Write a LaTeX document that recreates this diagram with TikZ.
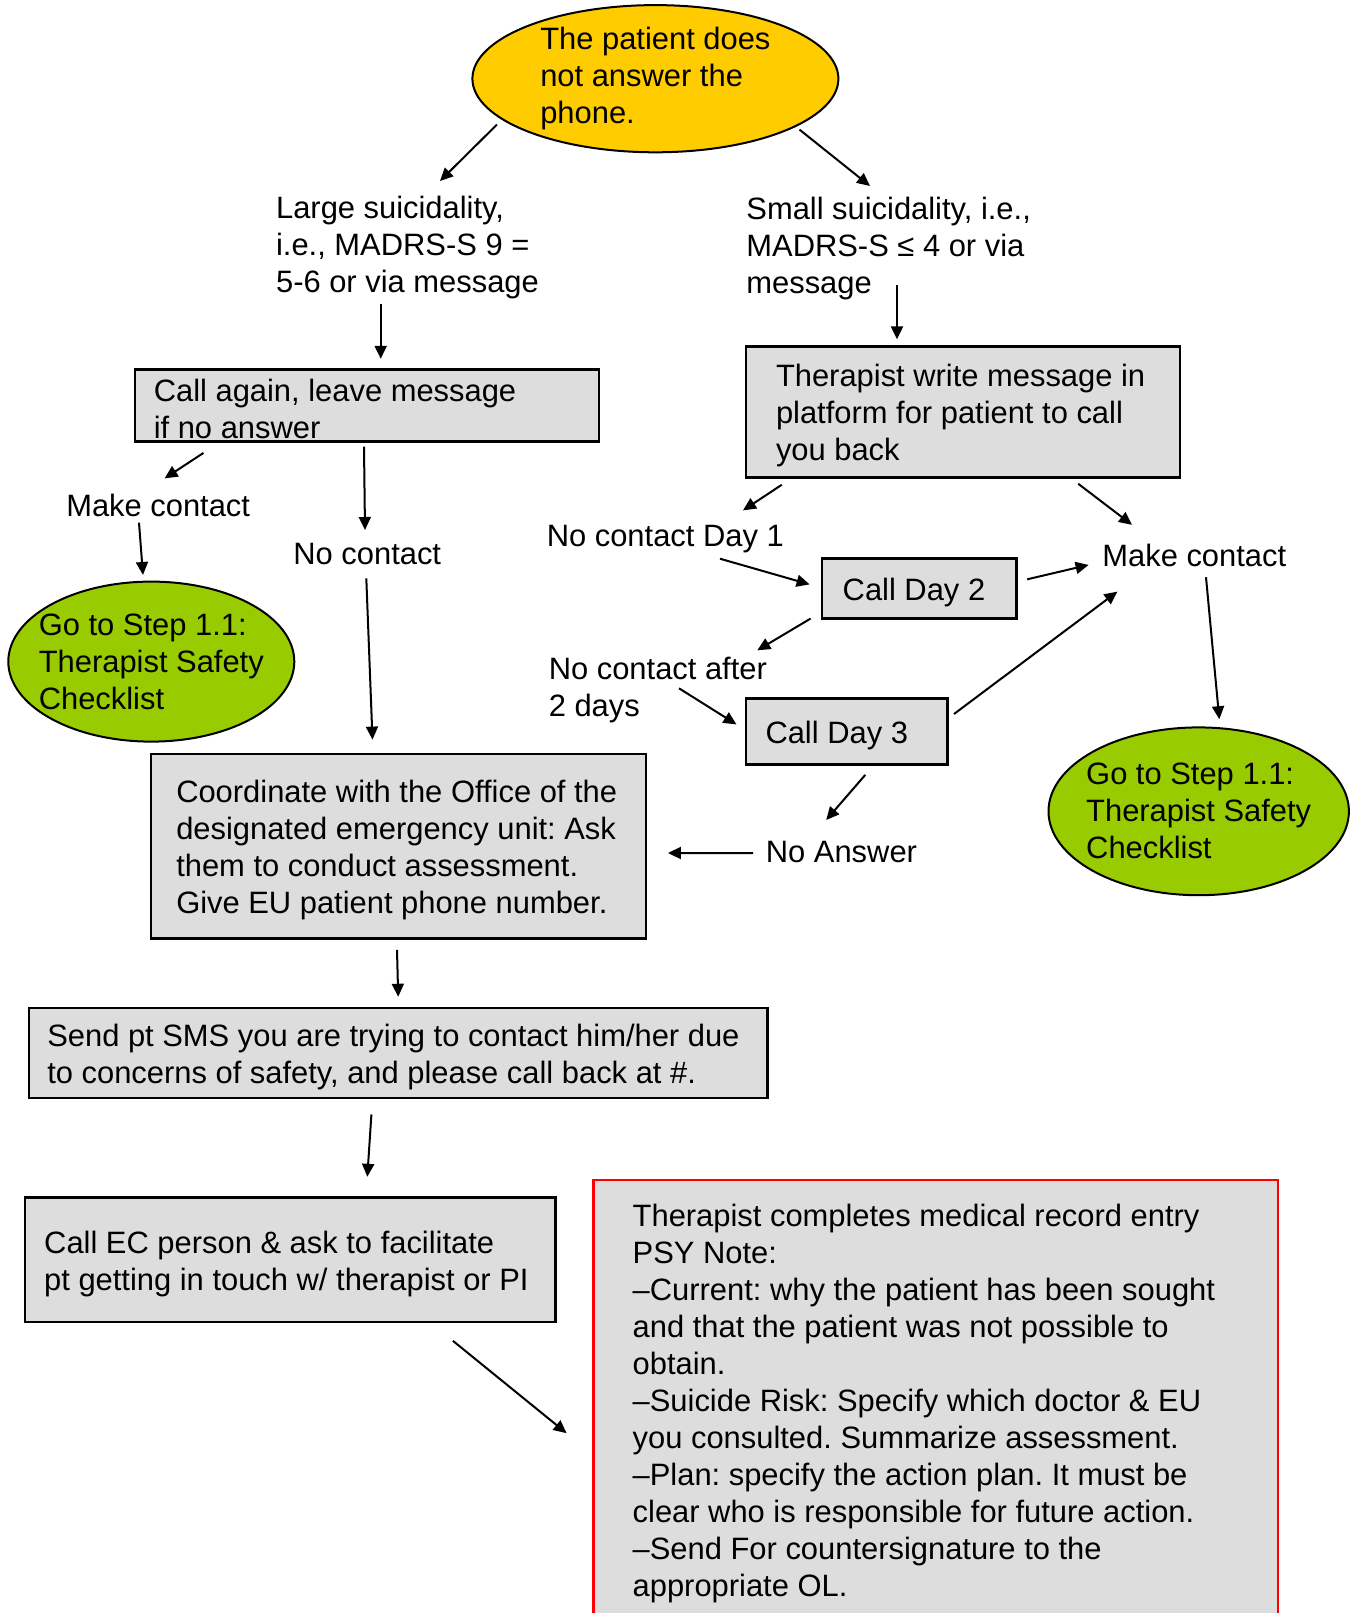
\documentclass[tikz,border=0pt]{standalone}
\usepackage{fontspec}
\setmainfont{Liberation Sans}
\usepackage{xcolor}
\usetikzlibrary{arrows.meta,shapes.geometric}
\definecolor{sun}{HTML}{FFCC00}
\definecolor{leaf}{HTML}{99CC00}
\definecolor{boxgray}{HTML}{DDDDDD}
\newcommand\plainspaces{\spaceskip=0pt\xspaceskip=0pt\frenchspacing\rule{0pt}{15pt}}
\frenchspacing

\begin{document}
\begin{tikzpicture}[x=0.5pt, y=-0.5pt,
    every node/.style={font=\fontsize{15.45}{18.5}\selectfont, inner sep=0pt},
    txt/.style={anchor=west, align=left},
    stepbox/.style={draw, line width=1.2pt, fill=boxgray, align=left, execute at begin node=\plainspaces},
    oval/.style={ellipse, draw, line width=1pt, align=left, inner xsep=-6pt},
    arr/.style={-{Triangle[length=6.5pt, width=6pt]}, line width=1pt}]
  \path[use as bounding box, fill=white] (0,0) rectangle (1353,1613);
  % start and the two risk levels
  \node[oval, fill=sun, minimum width=183pt, minimum height=73.6pt] (top) at (655.4,78.7)
    {The patient does\\not answer the\\phone.};
  \node[txt] (large) at (275.7,248) {Large suicidality,\\i.e., MADRS-S 9 =\\5-6 or via message};
  \node[txt] (small) at (746,249) {Small suicidality, i.e.,\\MADRS-S ≤ 4 or via\\message};
  % large suicidality branch
  \node[stepbox, text width=213pt, inner xsep=9.5pt, minimum height=36pt] (again) at (366.8,405.4)
    {Call again, leave message\\if no answer};
  \node[txt] (makeL) at (65.9,505) {Make contact};
  \node[txt] (nocon) at (293,553.6) {No contact};
  \node[oval, fill=leaf, minimum width=143pt, minimum height=80pt] (goL) at (151.3,661.6)
    {Go to Step 1.1:\\Therapist Safety\\Checklist};
  \node[stepbox, text width=222.5pt, inner xsep=12.5pt, minimum height=92.1pt] (coord) at (398.75,846.3)
    {Coordinate with the Office of the\\designated emergency unit: Ask\\them to conduct assessment.\\Give EU patient phone number.};
  % small suicidality branch
  \node[stepbox, text width=187pt, inner xsep=15pt, minimum height=65.35pt] (write) at (963,412)
    {Therapist write message in\\platform for patient to call\\you back};
  \node[txt] (ncday1) at (546.4,539) {No contact Day 1};
  \node[stepbox, text width=76.6pt, inner xsep=10.35pt, minimum height=29.85pt] (day2) at (919.3,588.5) {Call Day 2};
  \node[txt] (makeR) at (1102,555.6) {Make contact};
  \node[txt] (ncafter) at (548.4,690) {No contact after\\2 days};
  \node[stepbox, text width=81.3pt, inner xsep=9.75pt, minimum height=32.95pt] (day3) at (846.8,731.5) {Call Day 3};
  \node[oval, fill=leaf, minimum width=150.2pt, minimum height=83.9pt] (goR) at (1198.7,811.3)
    {Go to Step 1.1:\\Therapist Safety\\Checklist};
  \node[txt] (noans) at (765.5,851.9) {No Answer};
  % common end
  \node[stepbox, text width=350.9pt, inner xsep=9.25pt, minimum height=44.75pt] (sms) at (398.2,1053)
    {Send pt SMS you are trying to contact him/her due\\to concerns of safety, and please call back at \#.};
  \node[stepbox, text width=245.95pt, inner xsep=9.75pt, minimum height=62.25pt] (callec) at (290.15,1259.85)
    {Call EC person \& ask to facilitate\\pt getting in touch w/ therapist or PI};
  \node[stepbox, draw=red, line width=1.4pt, text width=303.1pt, inner xsep=19.5pt, minimum height=220pt] (record) at (935.8,1400)
    {Therapist completes medical record entry\\PSY Note:\\--Current: why the patient has been sought\\and that the patient was not possible to\\obtain.\\--Suicide Risk: Specify which doctor \& EU\\you consulted. Summarize assessment.\\--Plan: specify the action plan. It must be\\clear who is responsible for future action.\\--Send For countersignature to the\\appropriate OL.};
  % arrows
  \draw[arr] ([shift={(-158.4,45.8)}]top.center) -- ([shift={(164.3,-67)}]large.west);
  \draw[arr] ([shift={(144.1,50.9)}]top.center) -- ([shift={(124,-63)}]small.west);
  \draw[arr] ([shift={(105,55.5)}]large.west) -- ([shift={(13.9,-9.4)}]again.north);
  \draw[arr] ([shift={(151,36)}]small.west) -- ([shift={(-66,-6.1)}]write.north);
  \draw[arr] ([shift={(69.9,10.3)}]again.south west) -- ([shift={(98.7,-26.6)}]makeL.west);
  \draw[arr] ([shift={(-2.8,4.1)}]again.south) -- ([shift={(72,-23.6)}]nocon.west);
  \draw[arr] ([shift={(73.1,17.7)}]makeL.west) -- ([shift={(-8.3,-5.6)}]goL.north);
  \draw[arr] ([shift={(73.3,24.7)}]nocon.west) -- ([shift={(-26.25,-13.4)}]coord.north);
  \draw[arr] ([shift={(37,6.2)}]write.south west) -- ([shift={(196.6,-28.6)}]ncday1.west);
  \draw[arr] ([shift={(-103,5.2)}]write.south east) -- ([shift={(30,-30.8)}]makeR.west);
  \draw[arr] ([shift={(173.6,19.7)}]ncday1.west) -- ([shift={(-11.2,-4.1)}]day2.west);
  \draw[arr] ([shift={(9.4,-9.2)}]day2.east) -- ([shift={(-13.4,9.3)}]makeR.west);
  \draw[arr] ([shift={(-10.2,-1)}]day2.south west) -- ([shift={(208.9,-39.7)}]ncafter.west);
  \draw[arr] ([shift={(130.6,-1.7)}]ncafter.west) -- ([shift={(-8.3,-7.1)}]day3.west);
  \draw[arr] ([shift={(5.2,-17.5)}]day3.east) -- ([shift={(15.4,36)}]makeR.west);
  \draw[arr] ([shift={(104,21.6)}]makeR.west) -- ([shift={(20.6,-7.2)}]goR.north);
  \draw[arr] ([shift={(18.5,9.2)}]day3.south) -- ([shift={(60.7,-31.9)}]noans.west);
  \draw[arr] ([shift={(-12.3,1.1)}]noans.west) -- ([shift={(20.5,6.7)}]coord.east);
  \draw[arr] ([shift={(-1.75,10.2)}]coord.south) -- ([shift={(0,-10.3)}]sms.north);
  \draw[arr] ([shift={(-26.8,15.5)}]sms.south) -- ([shift={(77.15,-19.6)}]callec.north);
  \draw[arr] ([shift={(-103.9,17.5)}]callec.south east) -- ([shift={(-25.7,33.2)}]record.west);
\end{tikzpicture}
\end{document}
